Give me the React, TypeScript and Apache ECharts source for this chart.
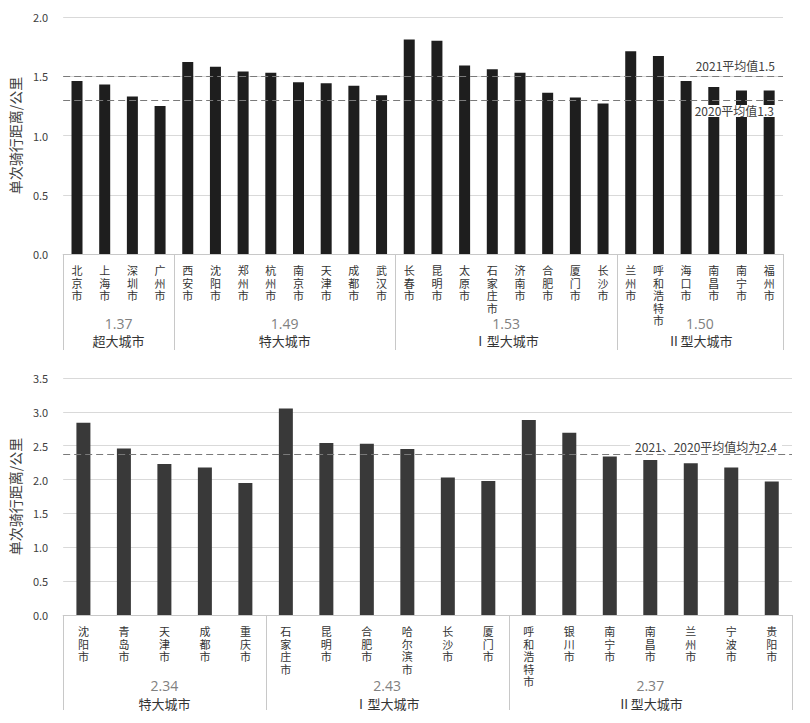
import React, { useEffect, useRef } from "react";
import * as echarts from "echarts";

const topCities = ["北京市", "上海市", "深圳市", "广州市", "西安市", "沈阳市", "郑州市", "杭州市", "南京市", "天津市", "成都市", "武汉市", "长春市", "昆明市", "太原市", "石家庄市", "济南市", "合肥市", "厦门市", "长沙市", "兰州市", "呼和浩特市", "海口市", "南昌市", "南宁市", "福州市"];
const topValues = [1.46, 1.43, 1.33, 1.25, 1.62, 1.58, 1.54, 1.53, 1.45, 1.44, 1.42, 1.34, 1.81, 1.8, 1.59, 1.56, 1.53, 1.36, 1.32, 1.27, 1.71, 1.67, 1.46, 1.41, 1.38, 1.38];
const topGroupNames = ["超大城市", "特大城市", "Ⅰ型大城市", "Ⅱ型大城市"];
const topGroupSizes = [4, 8, 8, 6];
const topGroupMeans = ["1.37", "1.49", "1.53", "1.50"];
const topAvg2021 = 1.5;
const topAvg2020 = 1.3;

const botCities = ["沈阳市", "青岛市", "天津市", "成都市", "重庆市", "石家庄市", "昆明市", "合肥市", "哈尔滨市", "长沙市", "厦门市", "呼和浩特市", "银川市", "南宁市", "南昌市", "兰州市", "宁波市", "贵阳市"];
const botValues = [2.84, 2.46, 2.23, 2.18, 1.95, 3.05, 2.54, 2.53, 2.45, 2.03, 1.98, 2.88, 2.69, 2.34, 2.29, 2.24, 2.18, 1.97];
const botGroupNames = ["特大城市", "Ⅰ型大城市", "Ⅱ型大城市"];
const botGroupSizes = [5, 6, 7];
const botGroupMeans = ["2.34", "2.43", "2.37"];
const botAvg = 2.38;

const FONT = "Noto Sans CJK SC";

export default function App() {
  const ref = useRef<HTMLDivElement>(null);
  useEffect(() => {
    document.body.style.margin = "0";
    const chart = echarts.init(ref.current!, null, { renderer: "svg" });
    const vertical = (v: string) => v.split("").join("\n");
    const xAxisCommon = {
      type: "category" as const,
      axisLine: { lineStyle: { color: "#c8c8c8", width: 1 } },
      axisTick: { show: false },
      axisLabel: {
        interval: 0,
        formatter: vertical,
        color: "#333",
        fontSize: 11,
        lineHeight: 12.5,
        margin: 10,
        fontFamily: FONT,
      },
    };
    const yAxisCommon = {
      type: "value" as const,
      min: 0,
      interval: 0.5,
      name: "单次骑行距离/公里",
      nameLocation: "middle" as const,
      nameGap: 38,
      nameTextStyle: { fontSize: 14, color: "#404040", fontFamily: FONT },
      axisLine: { show: false },
      axisTick: { show: false },
      axisLabel: {
        color: "#404040",
        fontSize: 11,
        margin: 15,
        fontFamily: FONT,
        formatter: (v: number) => v.toFixed(1),
      },
      splitLine: { lineStyle: { color: "#d9d9d9", width: 1 } },
    };
    chart.setOption({
      animation: false,
      backgroundColor: "#fff",
      textStyle: { fontFamily: FONT },
      grid: [
        { left: 60, right: 27, top: 17, height: 237 },
        { left: 60, right: 18, top: 378, height: 237 },
      ],
      xAxis: [
        { ...xAxisCommon, gridIndex: 0, data: topCities },
        { ...xAxisCommon, gridIndex: 1, data: botCities },
      ],
      yAxis: [
        { ...yAxisCommon, gridIndex: 0, max: 2 },
        { ...yAxisCommon, gridIndex: 1, max: 3.5 },
      ],
      series: [
        {
          type: "bar",
          xAxisIndex: 0,
          yAxisIndex: 0,
          data: topValues,
          barWidth: 11,
          itemStyle: { color: "#1e1e1e" },
          markLine: {
            silent: true,
            symbol: "none",
            lineStyle: { type: [7, 4], color: "#7a7a7a", width: 1.2 },
            data: [
              {
                yAxis: topAvg2021,
                label: {
                  position: "insideEndTop",
                  formatter: "2021平均值1.5",
                  color: "#404040",
                  fontSize: 12,
                  distance: [8, 5],
                  fontFamily: FONT,
                },
              },
              {
                yAxis: topAvg2020,
                label: {
                  position: "insideEndBottom",
                  formatter: "2020平均值1.3",
                  color: "#404040",
                  fontSize: 12,
                  backgroundColor: "#fff",
                  padding: [0, 1],
                  distance: [8, 5],
                  fontFamily: FONT,
                },
              },
            ],
          },
        },
        {
          type: "bar",
          xAxisIndex: 1,
          yAxisIndex: 1,
          data: botValues,
          barWidth: 14,
          itemStyle: { color: "#393939" },
          markLine: {
            silent: true,
            symbol: "none",
            lineStyle: { type: [7, 4], color: "#7a7a7a", width: 1.2 },
            data: [
              {
                yAxis: botAvg,
                label: {
                  position: "insideEndTop",
                  formatter: "2021、2020平均值均为2.4",
                  color: "#404040",
                  fontSize: 12,
                  backgroundColor: "#fff",
                  padding: [0, 5],
                  distance: [10, 1],
                  fontFamily: FONT,
                },
              },
            ],
          },
        },
      ],
    });

    const buildGroups = (
      axisIdx: number,
      cats: string[],
      sizes: number[],
      names: string[],
      means: string[],
      depth: number,
      meanOffset: number,
      nameOffset: number
    ) => {
      const p0 = chart.convertToPixel({ xAxisIndex: axisIdx }, cats[0]) as number;
      const p1 = chart.convertToPixel({ xAxisIndex: axisIdx }, cats[1]) as number;
      const band = p1 - p0;
      const y0 = chart.convertToPixel({ yAxisIndex: axisIdx }, 0) as number;
      const edge = (i: number) => p0 - band / 2 + i * band;
      const els: any[] = [];
      let start = 0;
      const bounds = [0];
      sizes.forEach((s) => {
        start += s;
        bounds.push(start);
      });
      bounds.forEach((b) => {
        const x = Math.round(edge(b)) + 0.5;
        els.push({
          type: "line",
          shape: { x1: x, y1: y0, x2: x, y2: y0 + depth },
          style: { stroke: "#c8c8c8", lineWidth: 1 },
          silent: true,
        });
      });
      sizes.forEach((s, gi) => {
        const cx = (edge(bounds[gi]) + edge(bounds[gi + 1])) / 2;
        els.push({
          type: "text",
          x: cx,
          y: y0 + meanOffset,
          style: {
            text: means[gi],
            fill: "#808080",
            fontSize: 14,
            fontFamily: "Open Sans",
            align: "center",
            verticalAlign: "middle",
          },
          silent: true,
        });
        els.push({
          type: "text",
          x: cx,
          y: y0 + nameOffset,
          style: {
            text: names[gi],
            fill: "#333",
            fontSize: 13,
            fontFamily: FONT,
            align: "center",
            verticalAlign: "middle",
          },
          silent: true,
        });
      });
      return els;
    };

    chart.setOption({
      graphic: [
        ...buildGroups(0, topCities, topGroupSizes, topGroupNames, topGroupMeans, 96, 69, 86),
        ...buildGroups(1, botCities, botGroupSizes, botGroupNames, botGroupMeans, 95, 70, 88),
      ],
    });

    return () => chart.dispose();
  }, []);
  return (
    <div
      ref={ref}
      style={{ position: "absolute", left: 0, top: 0, width: 810, height: 723 }}
    />
  );
}
